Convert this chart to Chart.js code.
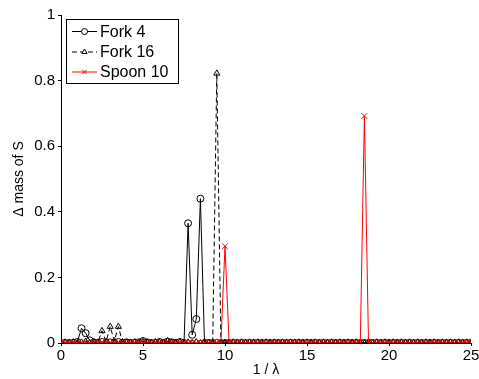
<!DOCTYPE html>
<html>
<head>
<meta charset="utf-8">
<script src="https://cdn.jsdelivr.net/npm/chart.js@4"></script>
<style>
	html, body { margin: 0; padding: 0; background: #fff; }
	#wrap { width: 479px; height: 379px; }
</style>
</head>
<body>
<div id="wrap"><canvas id="chart" width="479" height="379"></canvas></div>
<script>
// x grid (1 / lambda)
const xValues = [
	0, 0.25, 0.5, 0.75, 1, 1.25, 1.5, 1.75, 2, 2.25, 2.5, 2.75, 3, 3.25, 3.5, 3.75,
	4, 4.25, 4.5, 4.75, 5, 5.25, 5.5, 5.75, 6, 6.25, 6.5, 6.75, 7, 7.25, 7.5, 7.75,
	8, 8.25, 8.5, 8.75, 9, 9.25, 9.5, 9.75, 10, 10.25, 10.5, 10.75, 11, 11.25, 11.5, 11.75,
	12, 12.25, 12.5, 12.75, 13, 13.25, 13.5, 13.75, 14, 14.25, 14.5, 14.75, 15, 15.25, 15.5, 15.75,
	16, 16.25, 16.5, 16.75, 17, 17.25, 17.5, 17.75, 18, 18.25, 18.5, 18.75, 19, 19.25, 19.5, 19.75,
	20, 20.25, 20.5, 20.75, 21, 21.25, 21.5, 21.75, 22, 22.25, 22.5, 22.75, 23, 23.25, 23.5, 23.75,
	24, 24.25, 24.5, 24.75, 25
];

// delta mass of S, one value per x
const fork4 = [
	0, 0, 0, 0, 0.003, 0.045, 0.03, 0.008, 0.002, 0, 0.003, 0, 0.002, 0, 0.003, 0,
	0.002, 0, 0, 0.002, 0.006, 0.002, 0, 0, 0.003, 0, 0.004, 0.002, 0, 0.003, 0, 0.365,
	0.025, 0.073, 0.44, 0, 0, 0, 0, 0, 0, 0, 0, 0, 0, 0, 0, 0,
	0, 0, 0, 0, 0, 0, 0, 0, 0, 0, 0, 0, 0, 0, 0, 0,
	0, 0, 0, 0, 0, 0, 0, 0, 0, 0, 0, 0, 0, 0, 0, 0,
	0, 0, 0, 0, 0, 0, 0, 0, 0, 0, 0, 0, 0, 0, 0, 0,
	0, 0, 0, 0, 0
];
const fork16 = [
	0, 0.002, 0, 0.003, 0, 0.002, 0.004, 0, 0.003, 0.002, 0.037, 0.004, 0.05, 0.006, 0.05, 0.003,
	0.002, 0, 0.003, 0, 0.004, 0.002, 0, 0.003, 0.002, 0, 0.006, 0.002, 0, 0.003, 0, 0.002,
	0, 0.003, 0, 0.002, 0, 0, 0.822, 0, 0, 0, 0.002, 0, 0.002, 0, 0.002, 0,
	0.002, 0, 0.002, 0, 0.002, 0, 0.002, 0, 0.002, 0, 0.002, 0, 0.002, 0, 0.002, 0,
	0.002, 0, 0.002, 0, 0.002, 0, 0.002, 0, 0.002, 0, 0, 0.002, 0, 0.002, 0, 0.002,
	0, 0.002, 0, 0.002, 0, 0.002, 0, 0.002, 0, 0.002, 0, 0.002, 0, 0.002, 0, 0.002,
	0, 0.002, 0, 0.002, 0
];
const spoon10 = [
	0, 0, 0, 0, 0, 0, 0, 0, 0, 0, 0, 0, 0, 0, 0, 0,
	0, 0, 0, 0, 0, 0, 0, 0, 0, 0, 0, 0, 0, 0, 0, 0,
	0, 0, 0, 0, 0, 0, 0, 0, 0.295, 0, 0, 0, 0, 0, 0, 0,
	0, 0, 0, 0, 0, 0, 0, 0, 0, 0, 0, 0, 0, 0, 0, 0,
	0, 0, 0, 0, 0, 0, 0, 0, 0, 0, 0.692, 0, 0, 0, 0, 0,
	0, 0, 0, 0, 0, 0, 0, 0, 0, 0, 0, 0, 0, 0, 0, 0,
	0, 0, 0, 0, 0
];

const seriesNames = ['Fork 4', 'Fork 16', 'Spoon 10'];
const seriesColors = ['#000', '#000', 'rgb(255,0,0)'];
const seriesDashes = [[], [5, 3], []];
const seriesMarkers = ['circle', 'triangle', 'crossRot'];
const seriesMarkerSizes = [3.5, 3.5, 4];
const xTickValues = [0, 5, 10, 15, 20, 25];
const yTickValues = [0, 0.2, 0.4, 0.6, 0.8, 1];

const FONT = 'Helvetica, "Liberation Sans", Arial, sans-serif';

function toPoints(ys)
{
	let pts = [];
	for(let i = 0; i < ys.length; i++)
		pts.push({x: xValues[i], y: ys[i]});
	return pts;
}

function makeDataset(i, ys, order)
{
	return {
		label: seriesNames[i],
		data: toPoints(ys),
		borderColor: seriesColors[i],
		borderWidth: 1,
		borderDash: seriesDashes[i],
		pointStyle: seriesMarkers[i],
		pointRadius: seriesMarkerSizes[i],
		pointBorderColor: seriesColors[i],
		pointBackgroundColor: 'rgba(0,0,0,0)',
		pointBorderWidth: 1,
		tension: 0,
		clip: 0,   // clip to the axes like matlab, half markers on the zero line
		order: order
	};
}

// matlab style legend: line sample + marker + text, framed
const boxLegend = {
	id: 'boxLegend',
	afterDraw: function(chart)
	{
		const ctx = chart.ctx;
		const left = 66, top = 19, width = 112, height = 64;
		const rowY = [31.5, 52, 72];
		ctx.save();
		ctx.fillStyle = '#fff';
		ctx.fillRect(left, top, width, height);
		ctx.strokeStyle = '#000';
		ctx.lineWidth = 1;
		ctx.setLineDash([]);
		ctx.strokeRect(left + 0.5, top + 0.5, width, height);

		for(let i = 0; i < seriesNames.length; i++)
		{
			const y = rowY[i];
			ctx.strokeStyle = seriesColors[i];
			ctx.lineWidth = 1;
			ctx.setLineDash(seriesDashes[i]);
			ctx.beginPath();
			ctx.moveTo(72, y);
			ctx.lineTo(97, y);
			ctx.stroke();
			ctx.setLineDash([]);
			ctx.fillStyle = '#fff';
			ctx.strokeStyle = seriesColors[i];
			Chart.helpers.drawPoint(ctx, {
				pointStyle: seriesMarkers[i],
				radius: Math.min(seriesMarkerSizes[i], 3),
				rotation: 0,
				borderWidth: 1
			}, 84.5, y);
			ctx.fillStyle = '#000';
			ctx.font = '16px ' + FONT;
			ctx.textBaseline = 'middle';
			ctx.textAlign = 'left';
			ctx.fillText(seriesNames[i], 100, Math.round(y) + 1);
		}
		ctx.restore();
	}
};

new Chart(document.getElementById('chart'), {
	type: 'line',
	data: {
		datasets: [
			makeDataset(0, fork4, 2),
			makeDataset(1, fork16, 1),
			makeDataset(2, spoon10, 0)
		]
	},
	options: {
		responsive: false,
		animation: false,
		layout: { padding: { top: 15, right: 8, left: 0, bottom: 0 } },
		plugins: {
			legend: { display: false },
			tooltip: { enabled: false }
		},
		scales: {
			x: {
				type: 'linear',
				min: 0,
				max: 25,
				afterBuildTicks: function(scale) {
					scale.ticks = xTickValues.map(v => ({value: v}));
				},
				afterFit: function(scale) {
					scale.height = 36;
					scale.paddingLeft = 0;
					scale.paddingRight = 0;
				},
				grid: { display: true, drawOnChartArea: false, drawTicks: true, tickLength: 3, color: '#000' },
				border: { display: true, color: '#000', width: 1 },
				ticks: { color: '#000', font: { size: 15, family: FONT }, padding: 1, maxRotation: 0 },
				title: { display: true, text: '1 / λ', color: '#000', font: { size: 14, family: FONT }, padding: { top: 0, bottom: 0 } }
			},
			y: {
				type: 'linear',
				min: 0,
				max: 1,
				afterBuildTicks: function(scale) {
					scale.ticks = yTickValues.map(v => ({value: v}));
				},
				afterFit: function(scale) {
					scale.width = 61;
				},
				grid: { display: true, drawOnChartArea: false, drawTicks: true, tickLength: 3, color: '#000' },
				border: { display: true, color: '#000', width: 1 },
				ticks: {
					color: '#000',
					font: { size: 15, family: FONT },
					padding: 3,
					callback: function(value) { return String(Math.round(value * 10) / 10); }
				},
				title: { display: true, text: 'Δ mass of S', color: '#000', font: { size: 14, family: FONT }, padding: { top: 11, bottom: 0 } }
			}
		}
	},
	plugins: [boxLegend]
});
</script>
</body>
</html>
